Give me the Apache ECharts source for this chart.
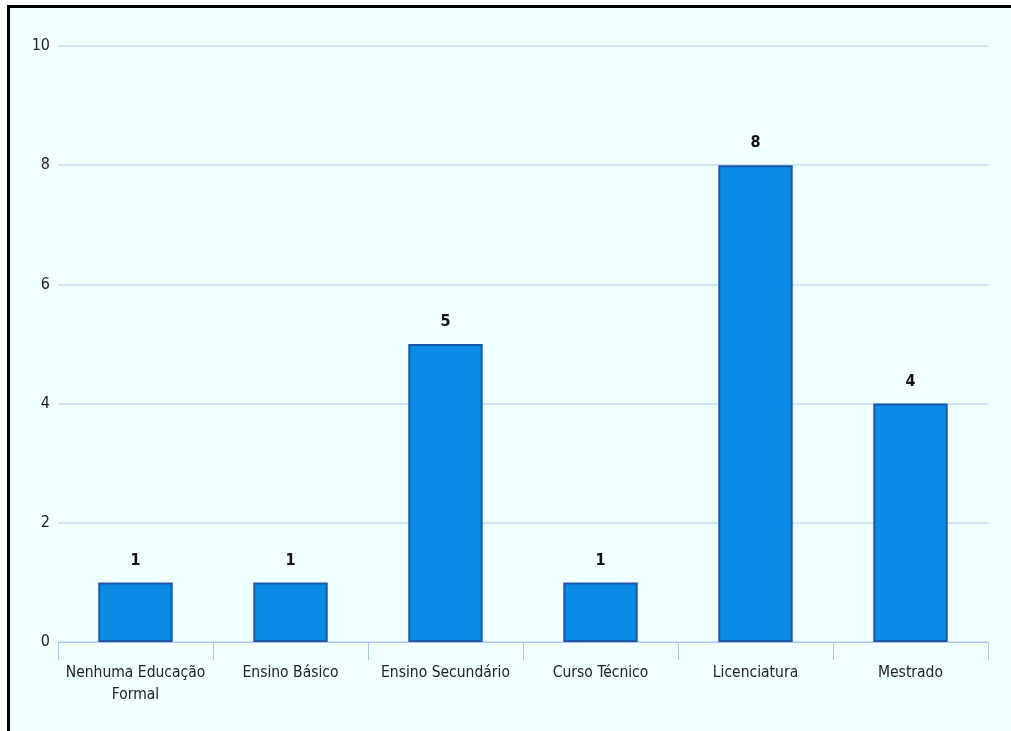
<!DOCTYPE html>
<html>
<head>
<meta charset="utf-8">
<script src="https://cdn.jsdelivr.net/npm/echarts@6/dist/echarts.min.js"></script>
<style>
  html, body { margin: 0; padding: 0; background: #ffffff; }
  #frame {
    position: absolute; left: 7px; top: 5px; width: 1004px; height: 726px;
    border-top: 3px solid #000; border-left: 3px solid #000; box-sizing: border-box;
    background: #f0ffff;
  }
  #chart { position: absolute; left: 0; top: 0; width: 1001px; height: 723px; }
</style>
</head>
<body>
<div id="frame"><div id="chart"></div></div>
<script>
// Education level of respondents
const categories = ['Nenhuma Educação\nFormal', 'Ensino Básico', 'Ensino Secundário', 'Curso Técnico', 'Licenciatura', 'Mestrado'];
const counts = [1, 1, 5, 1, 8, 4];
const yTicks = { min: 0, max: 10, interval: 2 };

const FONT = '"DejaVu Sans Condensed", "Liberation Sans Narrow", sans-serif';

const chart = echarts.init(document.getElementById('chart'), null, { renderer: 'canvas' });
chart.setOption({
  backgroundColor: 'transparent',
  animation: false,
  grid: { left: 48, right: 23, top: 38, bottom: 89 },
  xAxis: {
    type: 'category',
    data: categories,
    axisLine: { lineStyle: { color: '#a9c6ec', width: 1 } },
    axisTick: { show: true, length: 18, lineStyle: { color: '#a9c6ec' } },
    axisLabel: { color: '#222', fontFamily: FONT, fontSize: 15.5, margin: 20, lineHeight: 22, interval: 0 }
  },
  yAxis: {
    type: 'value',
    min: yTicks.min, max: yTicks.max, interval: yTicks.interval,
    axisLine: { show: false },
    axisTick: { show: false },
    axisLabel: { color: '#222', fontFamily: FONT, fontSize: 16, margin: 8 },
    splitLine: { lineStyle: { color: '#c7daf5', width: 1.5 } }
  },
  series: [{
    type: 'bar',
    data: counts,
    barWidth: '48%',
    itemStyle: { color: '#0a8ce6', borderColor: '#1a57a8', borderWidth: 2 },
    label: {
      show: true, position: 'top', distance: 14,
      color: '#111', fontFamily: FONT, fontSize: 16, fontWeight: 'bold'
    }
  }]
});
</script>
</body>
</html>
